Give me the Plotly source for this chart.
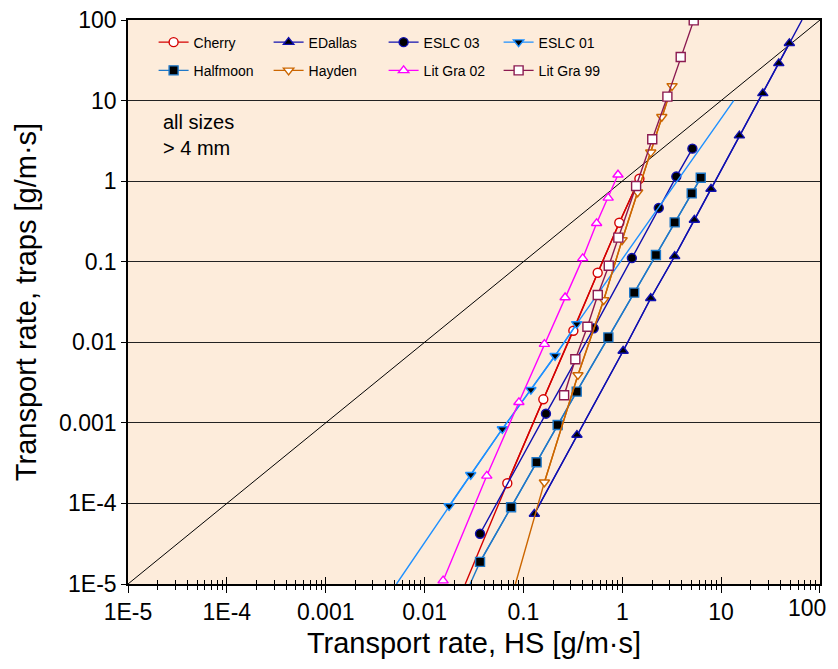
import math
import plotly.graph_objects as go

# ---------------- data ----------------
names = ["Cherry", "EDallas", "ESLC 03", "ESLC 01",
         "Halfmoon", "Hayden", "Lit Gra 02", "Lit Gra 99"]

cherry_x = [0.0687, 0.159, 0.32, 0.564, 0.933, 1.49]
cherry_y = [1.78e-4, 1.96e-3, 0.0139, 0.073, 0.305, 1.07]

edallas_x = [0.129, 0.348, 1.02, 1.94, 3.39, 5.36, 7.9, 15.3, 26.4, 38.3, 49.0]
edallas_y = [7.4e-5, 7.06e-4, 7.8e-3, 0.0352, 0.117, 0.33, 0.80, 3.67, 12.3, 29.0, 51.4]

eslc03_x = [0.0364, 0.169, 0.514, 1.25, 2.34, 3.52, 5.12]
eslc03_y = [4.2e-5, 1.3e-3, 0.0149, 0.111, 0.465, 1.14, 2.53]

eslc01_x = [0.0177, 0.0293, 0.0612, 0.119, 0.209, 0.346]
eslc01_y = [9.3e-5, 2.27e-4, 8.4e-4, 2.58e-3, 6.8e-3, 0.0169]

halfmoon_x = [0.0364, 0.075, 0.136, 0.222, 0.346, 0.723, 1.32, 2.19, 3.39, 5.04, 6.22]
halfmoon_y = [1.88e-5, 8.95e-5, 3.24e-4, 9.4e-4, 2.44e-3, 0.0115, 0.0413, 0.121, 0.308, 0.706, 1.10]

hayden_x = [0.163, 0.356, 0.649, 0.996, 1.43, 1.94, 2.51, 3.19]
hayden_y = [1.83e-4, 3.93e-3, 0.0335, 0.186, 0.727, 2.28, 6.3, 15.2]

litgra02_x = [0.0154, 0.0426, 0.090, 0.163, 0.264, 0.398, 0.55, 0.72, 0.905]
litgra02_y = [1.1e-5, 2.2e-4, 1.8e-3, 9.5e-3, 0.036, 0.11, 0.30, 0.62, 1.2]

litgra99_x = [0.258, 0.335, 0.444, 0.565, 0.73, 0.912, 1.38, 2.01, 2.86, 3.90, 5.28]
litgra99_y = [2.2e-3, 6.15e-3, 0.0156, 0.0386, 0.0893, 0.199, 0.87, 3.31, 11.2, 34.8, 99.0]

# extensions of the trend lines beyond the measured points
cherry_ext_lo = (0.0258, 1e-5)
halfmoon_ext_lo = (0.0289, 1e-5)
hayden_ext_lo = (0.083, 1e-5)
eslc01_ext_lo = (0.0052, 1e-5)
eslc01_ext_hi = (13.4, 10.0)
edallas_ext_hi = (65.8, 100.0)

ref_x = [1e-5, 100]
ref_y = [1e-5, 100]

y_tickvals = [1e-5, 1e-4, 1e-3, 1e-2, 0.1, 1, 10, 100]
y_ticktext = ["1E-5", "1E-4", "0.001", "0.01", "0.1", "1", "10", "100"]
x_tickvals = [1e-5, 1e-4, 1e-3, 1e-2, 0.1, 1, 10, 100]
x_ticktext = ["1E-5", "1E-4", "0.001", "0.01", "0.1", "1", "10", "100"]

# ---------------- styles ----------------
series = [
    ("Cherry", cherry_x, cherry_y, [cherry_ext_lo], [], "#D40000", "circle", "white", "#D40000", "legend"),
    ("EDallas", edallas_x, edallas_y, [], [edallas_ext_hi], "#1010B0", "triangle-up", "black", "#1010B0", "legend"),
    ("ESLC 03", eslc03_x, eslc03_y, [], [], "#1010B0", "circle", "black", "#1010B0", "legend"),
    ("ESLC 01", eslc01_x, eslc01_y, [eslc01_ext_lo], [eslc01_ext_hi], "#1E90FF", "triangle-down", "black", "#1E90FF", "legend"),
    ("Halfmoon", halfmoon_x, halfmoon_y, [halfmoon_ext_lo], [], "#1F78C8", "square", "black", "#1F78C8", "legend2"),
    ("Hayden", hayden_x, hayden_y, [hayden_ext_lo], [], "#CC6600", "triangle-down", "white", "#CC6600", "legend2"),
    ("Lit Gra 02", litgra02_x, litgra02_y, [], [], "#FF00FF", "triangle-up", "white", "#FF00FF", "legend2"),
    ("Lit Gra 99", litgra99_x, litgra99_y, [], [], "#8B1A50", "square", "white", "#8B1A50", "legend2"),
]

fig = go.Figure()

fig.add_trace(go.Scatter(x=ref_x, y=ref_y, mode="lines",
                         line=dict(color="black", width=1), showlegend=False,
                         hoverinfo="skip"))

for name, xs, ys, lo, hi, lc, sym, fill, edge, lg in series:
    if lo or hi:
        lx = [p[0] for p in lo] + list(xs) + [p[0] for p in hi]
        ly = [p[1] for p in lo] + list(ys) + [p[1] for p in hi]
        fig.add_trace(go.Scatter(x=lx, y=ly, mode="lines",
                                 line=dict(color=lc, width=1.4),
                                 showlegend=False, hoverinfo="skip"))
    fig.add_trace(go.Scatter(
        x=xs, y=ys, mode="lines+markers", name=name, legend=lg,
        line=dict(color=lc, width=1.4),
        marker=dict(symbol=sym, size=9, color=fill,
                    line=dict(color=edge, width=1.4)),
    ))

# invisible helper trace so the inside-tick axis is drawn
fig.add_trace(go.Scatter(x=ref_x, y=ref_y, xaxis="x2", mode="lines",
                         line=dict(width=0, color="rgba(0,0,0,0)"),
                         showlegend=False, hoverinfo="skip"))

bg = "#FDECDB"
font_family = "Liberation Sans, Arial, sans-serif"

legend_common = dict(orientation="h", bgcolor="rgba(0,0,0,0)",
                     font=dict(family=font_family, size=14, color="black"),
                     entrywidth=70, entrywidthmode="pixels",
                     xanchor="left", yanchor="middle", itemwidth=30,
                     tracegroupgap=0)

# last x tick label is placed as an annotation so it stays inside the window
x_ticktext_axis = x_ticktext[:-1] + [""]

# the page body adds an 8 px offset, so the figure is sized to fit the window
fig.update_layout(
    width=830, height=661,
    margin=dict(l=120, r=18, t=12, b=85, autoexpand=False),
    paper_bgcolor="white", plot_bgcolor=bg,
    font=dict(family=font_family, color="black"),
    legend=dict(**legend_common, x=0.037, y=0.96),
    legend2=dict(**legend_common, x=0.037, y=0.91),
    xaxis=dict(type="log", range=[-5, 2.0001], automargin=False,
               tickvals=x_tickvals, ticktext=x_ticktext_axis,
               ticklabeloverflow="allow",
               tickfont=dict(size=23), ticks="outside", ticklen=7,
               tickcolor="black", tickwidth=1,
               showgrid=False, zeroline=False,
               showline=True, linecolor="black", linewidth=1.5, mirror=True,
               minor=dict(ticks="outside", ticklen=4, tickcolor="black",
                          dtick="D1", showgrid=False),
               title=dict(text="Transport rate, HS [g/m·s]",
                          font=dict(size=29), standoff=8)),
    xaxis2=dict(type="log", range=[-5, 2.0001], automargin=False,
                overlaying="x", anchor="y", side="bottom",
                tickvals=x_tickvals, showticklabels=False,
                ticks="inside", ticklen=7, tickcolor="black",
                showgrid=False, zeroline=False, showline=False,
                minor=dict(ticks="inside", ticklen=4, tickcolor="black",
                           dtick="D1", showgrid=False)),
    yaxis=dict(type="log", range=[-5, 2.0001], automargin=False,
               tickvals=y_tickvals, ticktext=y_ticktext,
               ticklabeloverflow="allow",
               tickfont=dict(size=23), ticks="outside", ticklen=5,
               tickcolor="black",
               showgrid=True, gridcolor="#222222", gridwidth=1,
               zeroline=False,
               showline=True, linecolor="black", linewidth=1.5, mirror=True,
               title=dict(text="Transport rate, traps [g/m·s]",
                          font=dict(size=29), standoff=14)),
)

fig.add_annotation(x=math.log10(x_tickvals[-1]), xref="x",
                   y=0, yref="paper", yanchor="top", yshift=-9,
                   xanchor="right", xshift=8,
                   text=x_ticktext[-1], showarrow=False,
                   font=dict(size=23, family=font_family, color="black"))

fig.add_annotation(x=0.048, y=0.842, xref="paper", yref="paper",
                   text="all sizes<br>> 4 mm", showarrow=False,
                   xanchor="left", yanchor="top", align="left",
                   font=dict(size=20, family=font_family, color="black"))

fig.write_html("out.html")
